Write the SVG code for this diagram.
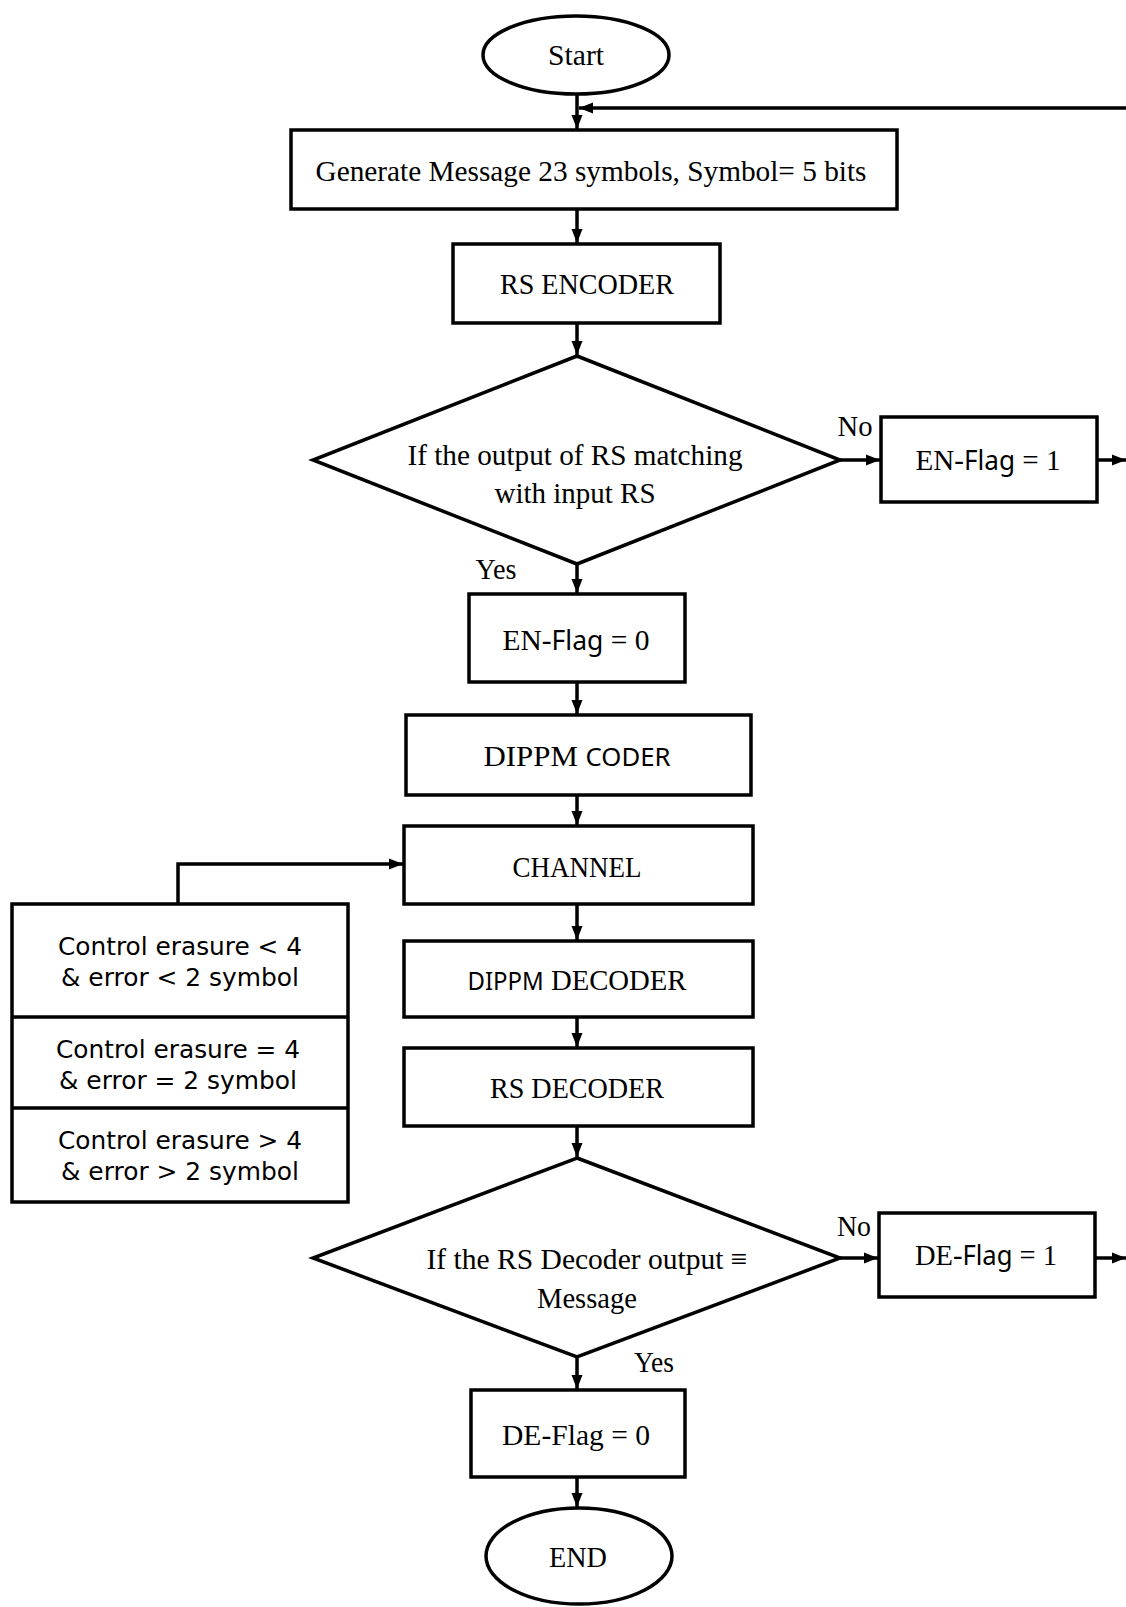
<svg xmlns="http://www.w3.org/2000/svg" width="1126" height="1607" viewBox="0 0 1126 1607">
<style>
.sh{fill:#fff;stroke:#000;stroke-width:3.5}
.ln{fill:none;stroke:#000;stroke-width:3.5}
.t{font-family:"Liberation Serif","Times New Roman",serif;font-size:30px;fill:#000;text-anchor:middle}
.s{font-family:"Noto Sans","DejaVu Sans",sans-serif}
.c{font-family:"DejaVu Sans","Noto Sans",sans-serif;font-size:25px;fill:#000;text-anchor:middle}
</style>
<defs>
<marker id="ah" markerUnits="userSpaceOnUse" markerWidth="14" markerHeight="14" viewBox="0 0 14 14" refX="14" refY="7" orient="auto">
<path d="M0,1.5 L14,7 L0,12.5 Z" fill="#000"/>
</marker>
</defs>
<g id="connectors">
<line class="ln" x1="577" y1="94" x2="577" y2="129" marker-end="url(#ah)"/>
<line class="ln" x1="1126" y1="108" x2="579" y2="108" marker-end="url(#ah)"/>
<line class="ln" x1="577" y1="209" x2="577" y2="243" marker-end="url(#ah)"/>
<line class="ln" x1="577" y1="323" x2="577" y2="355" marker-end="url(#ah)"/>
<line class="ln" x1="577" y1="564" x2="577" y2="593" marker-end="url(#ah)"/>
<line class="ln" x1="577" y1="682" x2="577" y2="714" marker-end="url(#ah)"/>
<line class="ln" x1="577" y1="795" x2="577" y2="825" marker-end="url(#ah)"/>
<line class="ln" x1="577" y1="904" x2="577" y2="940" marker-end="url(#ah)"/>
<line class="ln" x1="577" y1="1017" x2="577" y2="1047" marker-end="url(#ah)"/>
<line class="ln" x1="577" y1="1126" x2="577" y2="1157" marker-end="url(#ah)"/>
<line class="ln" x1="577" y1="1357" x2="577" y2="1389" marker-end="url(#ah)"/>
<line class="ln" x1="577" y1="1477" x2="577" y2="1507" marker-end="url(#ah)"/>
<line class="ln" x1="840" y1="460" x2="880" y2="460" marker-end="url(#ah)"/>
<line class="ln" x1="1097" y1="460" x2="1126" y2="460" marker-end="url(#ah)"/>
<line class="ln" x1="840" y1="1258" x2="878" y2="1258" marker-end="url(#ah)"/>
<line class="ln" x1="1095" y1="1258" x2="1126" y2="1258" marker-end="url(#ah)"/>
<polyline class="ln" points="178,904 178,864 403,864" marker-end="url(#ah)"/>
</g>
<g id="start">
<ellipse class="sh" cx="576" cy="55" rx="93" ry="39"/>
<text class="t" x="576" y="65" textLength="56" lengthAdjust="spacingAndGlyphs">Start</text>
</g>
<g id="generate">
<rect class="sh" x="291" y="130" width="606" height="79"/>
<text class="t" x="591" y="181" textLength="551" lengthAdjust="spacingAndGlyphs">Generate  Message 23 symbols, Symbol= 5 bits</text>
</g>
<g id="rs-encoder">
<rect class="sh" x="453" y="244" width="267" height="79"/>
<text class="t" x="587" y="294" textLength="174" lengthAdjust="spacingAndGlyphs">RS ENCODER</text>
</g>
<g id="decision1">
<polygon class="sh" points="577,356 840,460 577,564 313,460"/>
<text class="t" x="575" y="465" textLength="335" lengthAdjust="spacingAndGlyphs">If the output  of RS matching</text>
<text class="t" x="575" y="503" textLength="161" lengthAdjust="spacingAndGlyphs">with input RS</text>
<text class="t" x="855" y="436" textLength="35" lengthAdjust="spacingAndGlyphs">No</text>
<text class="t" x="496" y="579" textLength="41" lengthAdjust="spacingAndGlyphs">Yes</text>
</g>
<g id="en-flag-1">
<rect class="sh" x="881" y="417" width="216" height="85"/>
<text class="t" x="988" y="470" textLength="145" lengthAdjust="spacingAndGlyphs">EN-<tspan class="s" font-size="27">Flag</tspan> = 1</text>
</g>
<g id="en-flag-0">
<rect class="sh" x="469" y="594" width="216" height="88"/>
<text class="t" x="576" y="650" textLength="147" lengthAdjust="spacingAndGlyphs">EN-<tspan class="s" font-size="27">Flag</tspan> = 0</text>
</g>
<g id="dippm-coder">
<rect class="sh" x="406" y="715" width="345" height="80"/>
<text class="t" x="577" y="766" textLength="187" lengthAdjust="spacingAndGlyphs">DIPPM <tspan class="s" font-size="25">CODER</tspan></text>
</g>
<g id="channel">
<rect class="sh" x="404" y="826" width="349" height="78"/>
<text class="t" x="577" y="877" textLength="129" lengthAdjust="spacingAndGlyphs">CHANNEL</text>
</g>
<g id="dippm-decoder">
<rect class="sh" x="404" y="941" width="349" height="76"/>
<text class="t" x="577" y="990" textLength="219" lengthAdjust="spacingAndGlyphs"><tspan class="s" font-size="25">DIPPM</tspan> DECODER</text>
</g>
<g id="rs-decoder">
<rect class="sh" x="404" y="1048" width="349" height="78"/>
<text class="t" x="577" y="1098" textLength="174" lengthAdjust="spacingAndGlyphs">RS DECODER</text>
</g>
<g id="control">
<rect class="sh" x="12" y="904" width="336" height="298"/>
<line class="ln" x1="12" y1="1017" x2="348" y2="1017"/>
<line class="ln" x1="12" y1="1108" x2="348" y2="1108"/>
<text class="c" x="180" y="955" textLength="244" lengthAdjust="spacingAndGlyphs">Control erasure &lt; 4</text>
<text class="c" x="180" y="986" textLength="238" lengthAdjust="spacingAndGlyphs">&amp; error &lt; 2 symbol</text>
<text class="c" x="178" y="1058" textLength="244" lengthAdjust="spacingAndGlyphs">Control erasure = 4</text>
<text class="c" x="178" y="1089" textLength="238" lengthAdjust="spacingAndGlyphs">&amp; error = 2 symbol</text>
<text class="c" x="180" y="1149" textLength="244" lengthAdjust="spacingAndGlyphs">Control erasure &gt; 4</text>
<text class="c" x="180" y="1180" textLength="238" lengthAdjust="spacingAndGlyphs">&amp; error &gt; 2 symbol</text>
</g>
<g id="decision2">
<polygon class="sh" points="577,1158 840,1258 577,1357 313,1258"/>
<text class="t" x="587" y="1269" textLength="321" lengthAdjust="spacingAndGlyphs">If the RS Decoder  output ≡</text>
<text class="t" x="587" y="1308" textLength="100" lengthAdjust="spacingAndGlyphs">Message</text>
<text class="t" x="854" y="1236" textLength="34" lengthAdjust="spacingAndGlyphs">No</text>
<text class="t" x="654" y="1372" textLength="40" lengthAdjust="spacingAndGlyphs">Yes</text>
</g>
<g id="de-flag-1">
<rect class="sh" x="879" y="1213" width="216" height="84"/>
<text class="t" x="986" y="1265" textLength="142" lengthAdjust="spacingAndGlyphs">DE-<tspan class="s" font-size="27">Flag</tspan> = 1</text>
</g>
<g id="de-flag-0">
<rect class="sh" x="471" y="1390" width="214" height="87"/>
<text class="t" x="576" y="1445" textLength="148" lengthAdjust="spacingAndGlyphs">DE-Flag  = 0</text>
</g>
<g id="end">
<ellipse class="sh" cx="579" cy="1556" rx="93" ry="48"/>
<text class="t" x="578" y="1567" textLength="58" lengthAdjust="spacingAndGlyphs">END</text>
</g>
</svg>
